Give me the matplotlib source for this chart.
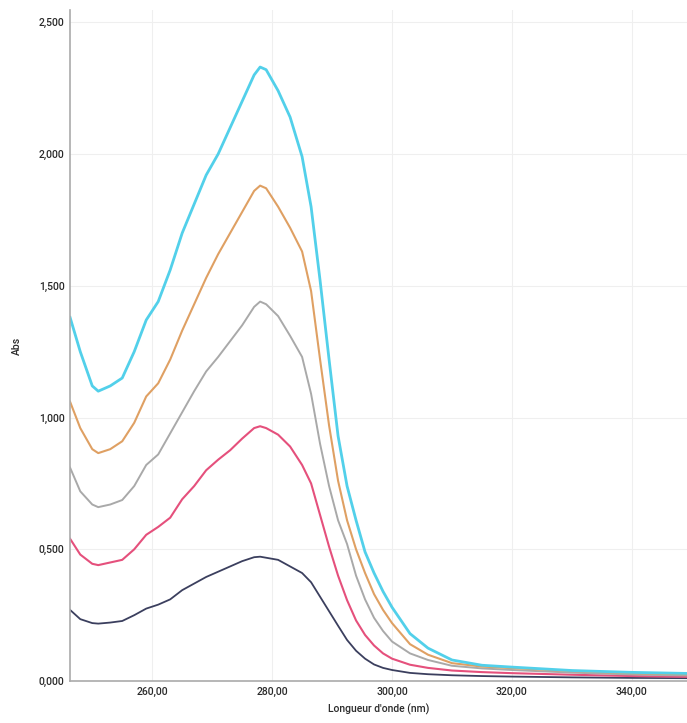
import matplotlib.pyplot as plt
from matplotlib.ticker import FuncFormatter

plt.rcParams['font.family'] = ['Roboto', 'DejaVu Sans']

# Wavelength (nm) and absorbance of the five spectra
wavelength = [246.3, 248, 250, 251, 253, 255, 257, 259, 261, 263, 265, 267, 269, 271, 273,
              275, 277, 278, 279, 281, 283, 285, 286.5, 288, 289.5, 291, 292.5, 294, 295.5,
              297, 298.5, 300, 303, 306, 310, 315, 320, 330, 340, 349.2]

abs_cyan = [1.38, 1.25, 1.12, 1.10, 1.12, 1.15, 1.25, 1.37, 1.44, 1.56, 1.70, 1.81, 1.92, 2.00,
            2.10, 2.20, 2.30, 2.33, 2.32, 2.24, 2.14, 1.99, 1.80, 1.52, 1.22, 0.93, 0.74, 0.61,
            0.49, 0.41, 0.34, 0.28, 0.18, 0.125, 0.08, 0.06, 0.053, 0.040, 0.033, 0.029]
abs_orange = [1.06, 0.96, 0.88, 0.865, 0.88, 0.91, 0.98, 1.08, 1.13, 1.22, 1.33, 1.43, 1.53,
              1.62, 1.70, 1.78, 1.86, 1.88, 1.87, 1.80, 1.72, 1.63, 1.48, 1.22, 0.97, 0.76,
              0.61, 0.50, 0.41, 0.33, 0.27, 0.22, 0.14, 0.10, 0.068, 0.055, 0.049, 0.038,
              0.030, 0.026]
abs_gray = [0.81, 0.72, 0.67, 0.66, 0.67, 0.687, 0.74, 0.82, 0.86, 0.94, 1.02, 1.10, 1.175,
            1.23, 1.29, 1.35, 1.42, 1.44, 1.43, 1.385, 1.31, 1.23, 1.09, 0.90, 0.74, 0.61,
            0.52, 0.40, 0.31, 0.24, 0.19, 0.15, 0.105, 0.08, 0.058, 0.048, 0.042, 0.032,
            0.025, 0.021]
abs_pink = [0.54, 0.48, 0.445, 0.44, 0.45, 0.46, 0.50, 0.555, 0.585, 0.62, 0.69, 0.74, 0.80,
            0.84, 0.876, 0.92, 0.96, 0.967, 0.96, 0.935, 0.89, 0.82, 0.75, 0.63, 0.51, 0.40,
            0.307, 0.23, 0.175, 0.135, 0.105, 0.085, 0.062, 0.05, 0.04, 0.034, 0.030, 0.024,
            0.019, 0.016]
abs_navy = [0.27, 0.235, 0.22, 0.218, 0.222, 0.228, 0.25, 0.275, 0.29, 0.31, 0.345, 0.37,
            0.395, 0.415, 0.435, 0.455, 0.47, 0.472, 0.468, 0.46, 0.435, 0.41, 0.375, 0.32,
            0.265, 0.21, 0.156, 0.115, 0.085, 0.063, 0.05, 0.042, 0.031, 0.026, 0.022,
            0.019, 0.017, 0.014, 0.012, 0.011]

x_ticks = [260, 280, 300, 320, 340]
y_ticks = [0, 0.5, 1.0, 1.5, 2.0, 2.5]

fig = plt.figure(figsize=(6.87, 7.23), dpi=100)
ax = fig.add_axes([0.102, 0.058, 0.898, 0.928])

ax.plot(wavelength, abs_navy, color='#3b3f5e', lw=1.3)
ax.plot(wavelength, abs_pink, color='#e5507c', lw=1.5)
ax.plot(wavelength, abs_gray, color='#a9a9a9', lw=1.4)
ax.plot(wavelength, abs_orange, color='#dfa063', lw=1.5)
ax.plot(wavelength, abs_cyan, color='#52d0ea', lw=2.0)

ax.set_xlim(246.3, 349.2)
ax.set_ylim(0, 2.546)
ax.set_xticks(x_ticks)
ax.set_yticks(y_ticks)
ax.xaxis.set_major_formatter(FuncFormatter(lambda v, p: f'{v:.2f}'.replace('.', ',')))
ax.yaxis.set_major_formatter(FuncFormatter(lambda v, p: f'{v:.3f}'.replace('.', ',')))
ax.tick_params(length=0, labelsize=7.5, colors='#2a2a2a', pad=4)
for lbl in ax.get_xticklabels() + ax.get_yticklabels():
    lbl.set_fontweight('medium')

ax.grid(True, color='#efefef', lw=0.8)
ax.set_axisbelow(True)
for s in ['top', 'right']:
    ax.spines[s].set_visible(False)
for s in ['left', 'bottom']:
    ax.spines[s].set_color('#aaaaaa')
    ax.spines[s].set_linewidth(1.2)

ax.set_xlabel("Longueur d'onde (nm)", fontsize=7.5, color='#2a2a2a', labelpad=5,
              fontweight='medium')
ax.set_ylabel('Abs', fontsize=7.5, color='#2a2a2a', labelpad=12, fontweight='medium')

fig.savefig('out.png', dpi=100)
